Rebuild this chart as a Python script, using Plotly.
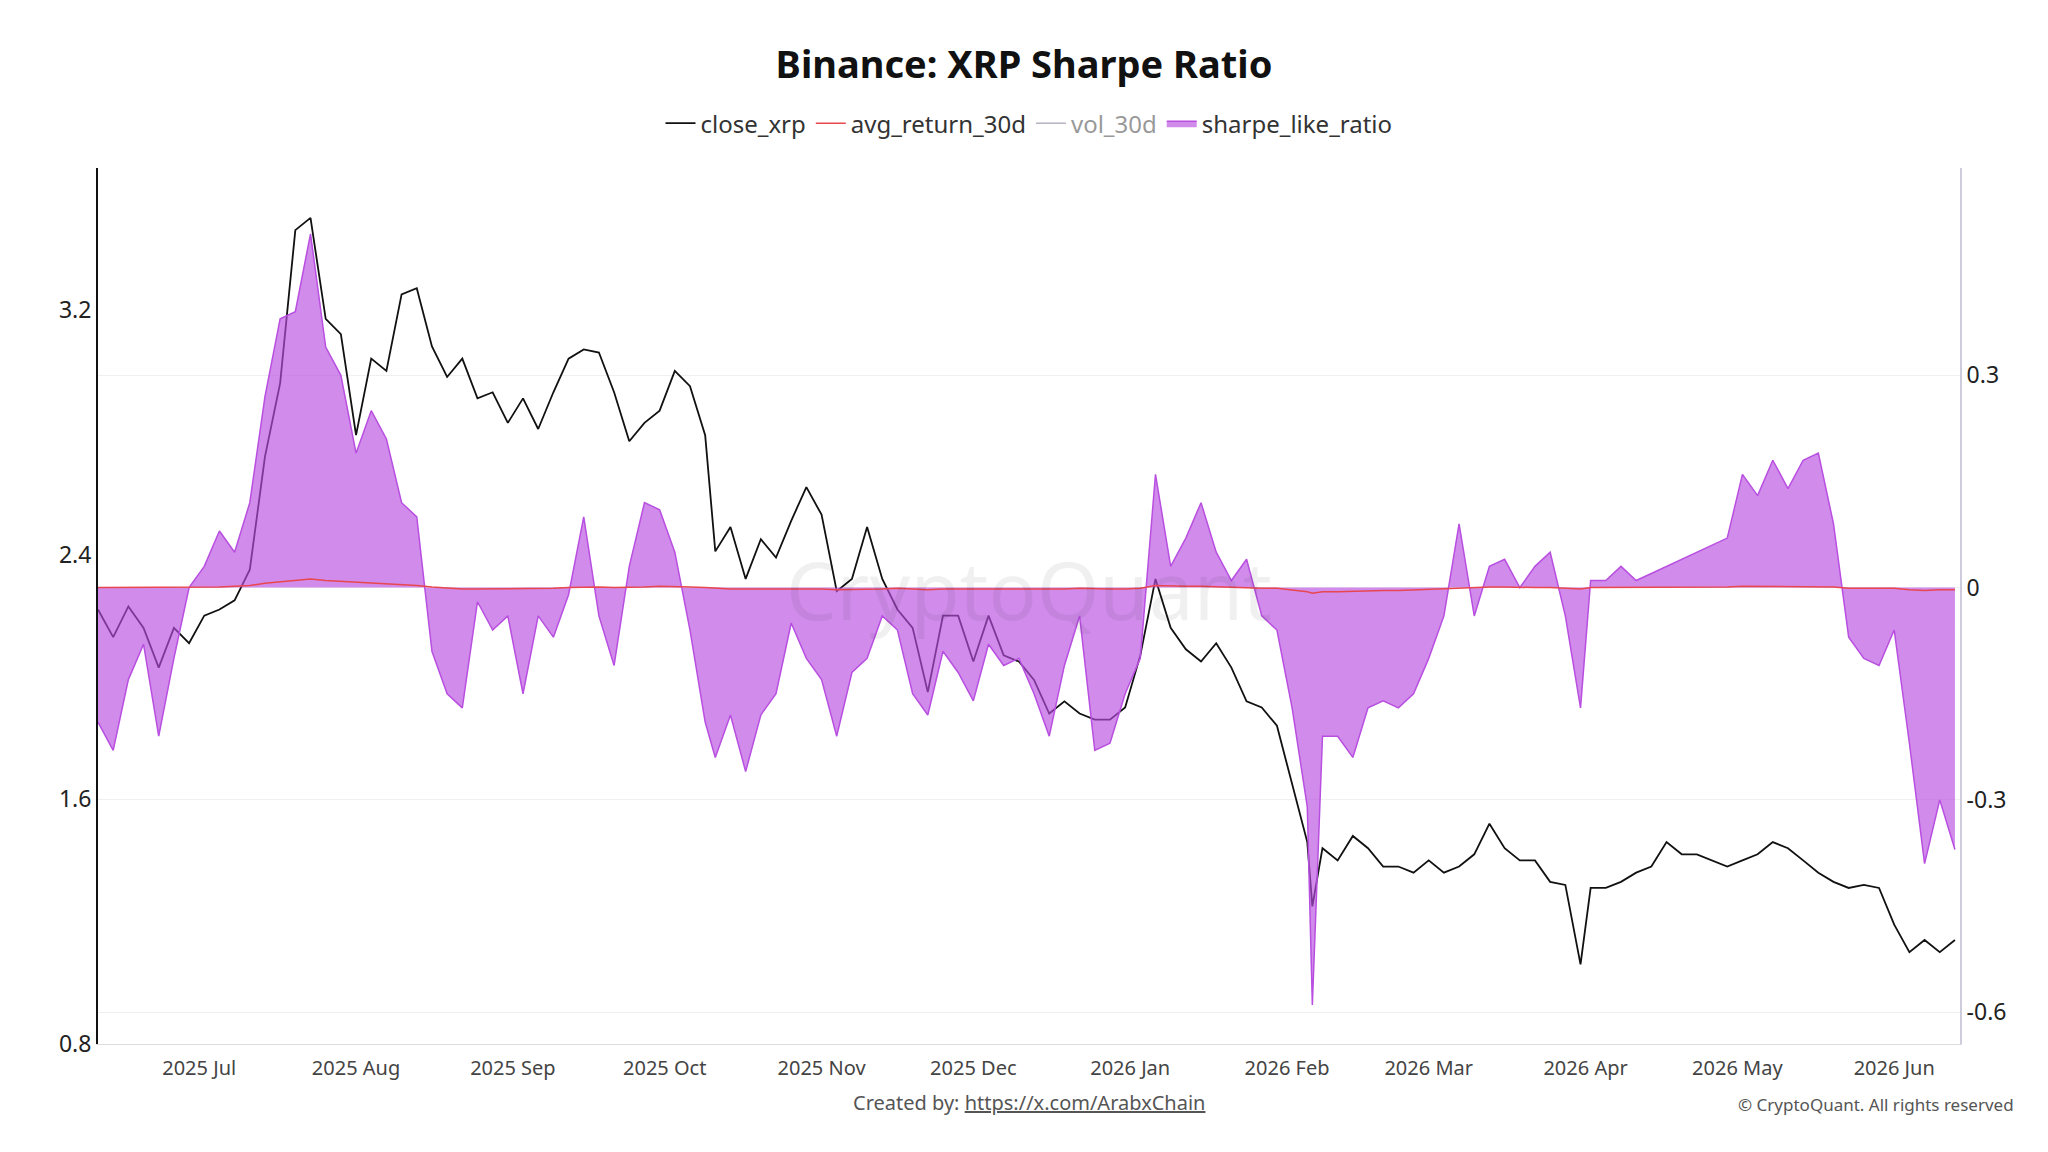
import pandas as pd
import plotly.graph_objects as go


dates = ["2025-06-11", "2025-06-14", "2025-06-17", "2025-06-20", "2025-06-23", "2025-06-26", "2025-06-29",
         "2025-07-02", "2025-07-05", "2025-07-08", "2025-07-11", "2025-07-14", "2025-07-17", "2025-07-20",
         "2025-07-23", "2025-07-26", "2025-07-29", "2025-08-01", "2025-08-04", "2025-08-07", "2025-08-10",
         "2025-08-13", "2025-08-16", "2025-08-19", "2025-08-22", "2025-08-25", "2025-08-28", "2025-08-31",
         "2025-09-03", "2025-09-06", "2025-09-09", "2025-09-12", "2025-09-15", "2025-09-18", "2025-09-21",
         "2025-09-24", "2025-09-27", "2025-09-30", "2025-10-03", "2025-10-06", "2025-10-09", "2025-10-11",
         "2025-10-14", "2025-10-17", "2025-10-20", "2025-10-23", "2025-10-26", "2025-10-29", "2025-11-01",
         "2025-11-04", "2025-11-07", "2025-11-10", "2025-11-13", "2025-11-16", "2025-11-19", "2025-11-22",
         "2025-11-25", "2025-11-28", "2025-12-01", "2025-12-04", "2025-12-07", "2025-12-10", "2025-12-13",
         "2025-12-16", "2025-12-19", "2025-12-22", "2025-12-25", "2025-12-28", "2025-12-31", "2026-01-03",
         "2026-01-06", "2026-01-09", "2026-01-12", "2026-01-15", "2026-01-18", "2026-01-21", "2026-01-24",
         "2026-01-27", "2026-01-30", "2026-02-02", "2026-02-05", "2026-02-06", "2026-02-08", "2026-02-11",
         "2026-02-14", "2026-02-17", "2026-02-20", "2026-02-23", "2026-02-26", "2026-03-01", "2026-03-04",
         "2026-03-07", "2026-03-10", "2026-03-13", "2026-03-16", "2026-03-19", "2026-03-22", "2026-03-25",
         "2026-03-28", "2026-03-31", "2026-04-02", "2026-04-05", "2026-04-08", "2026-04-11", "2026-04-14",
         "2026-04-17", "2026-04-20", "2026-04-23", "2026-04-26", "2026-04-29", "2026-05-02", "2026-05-05",
         "2026-05-08", "2026-05-11", "2026-05-14", "2026-05-17", "2026-05-20", "2026-05-23", "2026-05-26",
         "2026-05-29", "2026-06-01", "2026-06-04", "2026-06-07", "2026-06-10", "2026-06-13"]

close_xrp = [2.22, 2.13, 2.23, 2.16, 2.03, 2.16, 2.11, 2.20, 2.22, 2.25, 2.35, 2.72, 2.96, 3.46,
             3.50, 3.17, 3.12, 2.79, 3.04, 3.00, 3.25, 3.27, 3.08, 2.98, 3.04, 2.91, 2.93, 2.83,
             2.91, 2.81, 2.93, 3.04, 3.07, 3.06, 2.93, 2.77, 2.83, 2.87, 3.00, 2.95, 2.79, 2.41,
             2.49, 2.32, 2.45, 2.39, 2.51, 2.62, 2.53, 2.28, 2.32, 2.49, 2.32, 2.22, 2.16, 1.95,
             2.20, 2.20, 2.05, 2.20, 2.07, 2.05, 1.99, 1.88, 1.92, 1.88, 1.86, 1.86, 1.90, 2.07,
             2.32, 2.16, 2.09, 2.05, 2.11, 2.03, 1.92, 1.90, 1.84, 1.65, 1.46, 1.25, 1.44, 1.40,
             1.48, 1.44, 1.38, 1.38, 1.36, 1.40, 1.36, 1.38, 1.42, 1.52, 1.44, 1.40, 1.40, 1.33,
             1.32, 1.06, 1.31, 1.31, 1.33, 1.36, 1.38, 1.46, 1.42, 1.42, 1.40, 1.38, 1.40, 1.42,
             1.46, 1.44, 1.40, 1.36, 1.33, 1.31, 1.32, 1.31, 1.19, 1.10, 1.14, 1.10, 1.14]

sharpe_like_ratio = [-0.19, -0.23, -0.13, -0.08, -0.21, -0.10, 0.00, 0.03, 0.08, 0.05, 0.12, 0.27, 0.38, 0.39,
                     0.50, 0.34, 0.30, 0.19, 0.25, 0.21, 0.12, 0.10, -0.09, -0.15, -0.17, -0.02, -0.06, -0.04,
                     -0.15, -0.04, -0.07, -0.01, 0.10, -0.04, -0.11, 0.03, 0.12, 0.11, 0.05, -0.06, -0.19, -0.24,
                     -0.18, -0.26, -0.18, -0.15, -0.05, -0.10, -0.13, -0.21, -0.12, -0.10, -0.04, -0.06, -0.15, -0.18,
                     -0.09, -0.12, -0.16, -0.08, -0.11, -0.10, -0.15, -0.21, -0.11, -0.04, -0.23, -0.22, -0.15, -0.10,
                     0.16, 0.03, 0.07, 0.12, 0.05, 0.01, 0.04, -0.04, -0.06, -0.17, -0.31, -0.59, -0.21, -0.21,
                     -0.24, -0.17, -0.16, -0.17, -0.15, -0.10, -0.04, 0.09, -0.04, 0.03, 0.04, 0.00, 0.03, 0.05,
                     -0.04, -0.17, 0.01, 0.01, 0.03, 0.01, 0.02, 0.03, 0.04, 0.05, 0.06, 0.07, 0.16, 0.13,
                     0.18, 0.14, 0.18, 0.19, 0.09, -0.07, -0.10, -0.11, -0.06, -0.22, -0.39, -0.30, -0.37]

avg_return_30d = [0.0, 0.0, 0.0, 0.0, 0.0, 0.0, 0.0, 0.001, 0.001, 0.002, 0.003, 0.006, 0.008, 0.010,
                  0.012, 0.010, 0.009, 0.007, 0.007, 0.006, 0.005, 0.003, 0.001, -0.001, -0.002, -0.002, -0.002, -0.002,
                  -0.002, -0.001, -0.001, 0.0, 0.001, 0.001, 0.0, 0.0, 0.001, 0.002, 0.002, 0.001, 0.0, -0.001,
                  -0.002, -0.002, -0.002, -0.002, -0.001, -0.001, -0.002, -0.003, -0.003, -0.002, -0.002, -0.001, -0.002, -0.003,
                  -0.002, -0.002, -0.002, -0.002, -0.002, -0.002, -0.002, -0.003, -0.002, -0.001, -0.002, -0.002, -0.002, -0.001,
                  0.003, 0.002, 0.002, 0.002, 0.001, 0.0, 0.0, -0.001, -0.001, -0.003, -0.006, -0.008, -0.006, -0.006,
                  -0.005, -0.004, -0.004, -0.004, -0.003, -0.002, -0.001, 0.0, 0.0, 0.001, 0.001, 0.0, 0.0, 0.0,
                  -0.001, -0.002, 0.0, 0.0, 0.0, 0.0, 0.0, 0.001, 0.001, 0.001, 0.001, 0.001, 0.002, 0.002,
                  0.002, 0.002, 0.002, 0.002, 0.001, -0.001, -0.001, -0.001, -0.001, -0.003, -0.004, -0.003, -0.003]

df = pd.DataFrame(dict(date=pd.to_datetime(dates), close_xrp=close_xrp,
                       avg_return_30d=avg_return_30d, sharpe_like_ratio=sharpe_like_ratio))

fig = go.Figure()
fig.add_trace(go.Scatter(x=df.date, y=df.sharpe_like_ratio, name="sharpe_like_ratio", yaxis="y2",
                         mode="lines", line=dict(color="#b84fe0", width=1.5),
                         fill="tozeroy", fillcolor="rgba(184,79,224,0.65)", legendrank=4))
fig.add_trace(go.Scatter(x=df.date, y=df.avg_return_30d, name="avg_return_30d", yaxis="y2",
                         mode="lines", line=dict(color="#e8474f", width=1.5), legendrank=2))
fig.add_trace(go.Scatter(x=df.date, y=df.avg_return_30d, name="vol_30d", yaxis="y2", visible="legendonly",
                         mode="lines", line=dict(color="#6b6b80", width=1.5), legendrank=3))
fig.add_trace(go.Scatter(x=df.date, y=df.close_xrp, name="close_xrp", mode="lines",
                         line=dict(color="#111111", width=1.8), legendrank=1))

fig.update_layout(
    title=dict(text="<b>Binance: XRP Sharpe Ratio</b>", x=0.5, y=0.95, yanchor="middle",
               font=dict(size=38, color="#111")),
    font=dict(family="Noto Sans, Open Sans, sans-serif", size=20, color="#333"),
    plot_bgcolor="white", paper_bgcolor="white",
    margin=dict(l=90, r=80, t=160, b=100),
    legend=dict(orientation="h", x=0.5, xanchor="center", y=1.025, yanchor="bottom", font=dict(size=24)),
    showlegend=True,
    xaxis=dict(showgrid=False, showline=True, linecolor="#ddd", ticks="outside", ticklen=6, tickcolor="white",
               dtick="M1", tickformat="%Y %b",
               range=["2025-06-11", "2026-06-14"], tickfont=dict(size=20, color="#444")),
    yaxis=dict(range=[0.8, 3.663], tickvals=[0.8, 1.6, 2.4, 3.2], showgrid=False, showline=True,
               linecolor="#111", linewidth=2, zeroline=False, tickfont=dict(size=23, color="#222")),
    yaxis2=dict(range=[-0.645, 0.593], tickvals=[-0.6, -0.3, 0, 0.3], ticktext=["-0.6", "-0.3", "0", "0.3"],
                overlaying="y", side="right", showgrid=True, gridcolor="#f0f0f0", zeroline=False,
                showline=True, linecolor="#ccccdd", linewidth=2, tickfont=dict(size=23, color="#222")),
    annotations=[
        dict(text="CryptoQuant", x=0.5, y=0.52, xref="paper", yref="paper", showarrow=False,
             font=dict(size=80, color="rgba(0,0,0,0.06)")),
        dict(text="Created by: <u>https://x.com/ArabxChain</u>", x=0.5, y=-0.085, xref="paper", yref="paper",
             showarrow=False, font=dict(size=20, color="#555")),
        dict(text="© CryptoQuant. All rights reserved", x=1.03, y=-0.085, xref="paper", yref="paper",
             xanchor="right", showarrow=False, font=dict(size=17, color="#555")),
    ],
)

fig.write_html("out.html")
